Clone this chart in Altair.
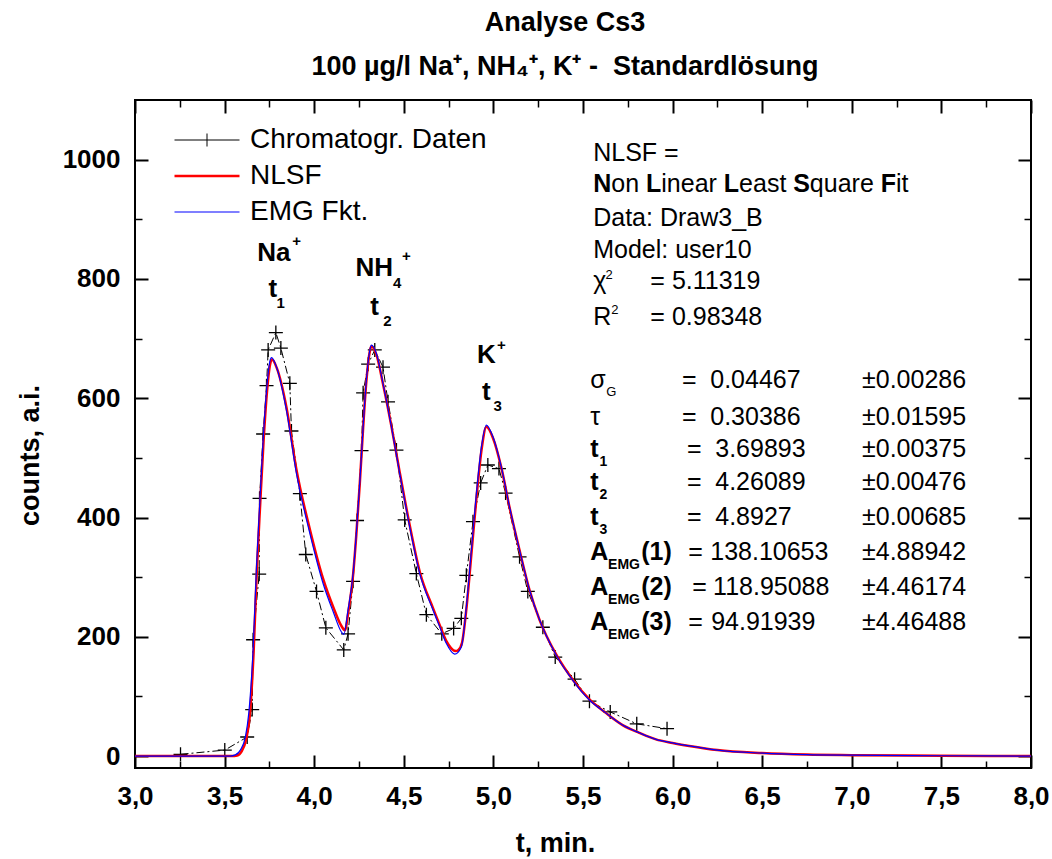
import altair as alt
import pandas as pd

FONT = "Liberation Sans"

# ---------------- data ----------------
# Chromatographic data points (t in min, counts)
data_t = [3.254, 3.501, 3.626, 3.654, 3.659, 3.693, 3.695, 3.715, 3.734, 3.743, 3.786,
          3.814, 3.864, 3.873, 3.920, 3.953, 4.013, 4.065, 4.165, 4.189, 4.217, 4.239,
          4.264, 4.273, 4.301, 4.338, 4.384, 4.412, 4.459, 4.505, 4.570, 4.626, 4.712,
          4.778, 4.821, 4.849, 4.886, 4.929, 4.969, 5.031, 5.068, 5.146, 5.192, 5.276,
          5.345, 5.453, 5.536, 5.652, 5.800, 5.969]
data_c = [3, 10, 32, 78, 195, 305, 432, 540, 621, 681, 710,
          684, 625, 545, 440, 338, 276, 215, 178, 205, 293, 395,
          512, 609, 657, 681, 652, 594, 513, 396, 306, 237, 205,
          214, 231, 303, 393, 458, 488, 482, 441, 334, 276, 216,
          166, 129, 92, 74, 54, 46]

# EMG function (blue)
emg_t = [3.00, 3.53, 3.56, 3.588, 3.616, 3.635, 3.659, 3.678, 3.697, 3.715, 3.734, 3.752,
         3.762, 3.790, 3.845, 3.901, 3.976, 4.050, 4.106, 4.152, 4.165, 4.189, 4.217,
         4.235, 4.254, 4.273, 4.291, 4.310, 4.319, 4.347, 4.384, 4.431, 4.477, 4.533,
         4.589, 4.663, 4.700, 4.737, 4.784, 4.821, 4.849, 4.877, 4.905, 4.933, 4.961,
         4.998, 5.044, 5.090, 5.146, 5.202, 5.258, 5.351, 5.443, 5.536, 5.629, 5.721,
         5.814, 5.907, 6.000, 6.093, 6.25, 6.50, 6.75, 7.00, 7.50, 8.00]
emg_c = [0, 0, 2, 10, 32, 72, 178, 317, 429, 530, 613, 661,
         668, 652, 580, 474, 373, 289, 242, 208, 204, 245, 306,
         373, 457, 552, 630, 680, 689, 675, 625, 552, 474, 384,
         306, 245, 217, 189, 171, 183, 250, 345, 440, 518, 555,
         535, 485, 418, 345, 278, 228, 169, 127, 94, 72, 52,
         39, 28, 22, 17, 10, 5, 2.5, 1.5, 0.5, 0]

# NLSF (red)
nlsf_t = [3.00, 3.54, 3.57, 3.595, 3.62, 3.64, 3.662, 3.680, 3.699, 3.717, 3.736, 3.754,
          3.765, 3.792, 3.845, 3.901, 3.976, 4.050, 4.106, 4.152, 4.171, 4.192, 4.217,
          4.235, 4.254, 4.273, 4.291, 4.310, 4.319, 4.347, 4.384, 4.431, 4.477, 4.533,
          4.589, 4.663, 4.700, 4.737, 4.790, 4.805, 4.825, 4.851, 4.879, 4.907, 4.935,
          4.961, 4.998, 5.044, 5.090, 5.146, 5.202, 5.258, 5.351, 5.443, 5.536, 5.629,
          5.721, 5.814, 5.907, 6.000, 6.093, 6.25, 6.50, 6.75, 7.00, 7.50, 8.00]
nlsf_c = [0, 0, 1, 8, 28, 66, 175, 312, 425, 526, 609, 657,
          665, 650, 585, 480, 380, 297, 250, 218, 211, 245, 304,
          371, 455, 550, 628, 678, 687, 673, 624, 553, 476, 387,
          309, 248, 220, 193, 176, 178, 190, 252, 345, 438, 516,
          552, 533, 484, 417, 345, 278, 228, 170, 128, 95, 72,
          52, 39, 28, 22, 17, 10, 5, 2.5, 1.5, 0.5, 0]

series_names = ["Chromatogr. Daten", "NLSF", "EMG Fkt."]
series_colors = ["black", "red", "blue"]
series_widths = [1.0, 2.5, 1.2]
series_symbols = ["M-1,0H1M0,-0.2V0.2", "M-1,0H1", "M-1,0H1"]

x_major = [3.0, 3.5, 4.0, 4.5, 5.0, 5.5, 6.0, 6.5, 7.0, 7.5, 8.0]
x_minor = [3.25, 3.75, 4.25, 4.75, 5.25, 5.75, 6.25, 6.75, 7.25, 7.75]
y_major = [0, 200, 400, 600, 800, 1000]
y_minor = [100, 300, 500, 700, 900]

# annotation texts: (text, t, counts, fontsize)
ann_regular = [
    ("NLSF =", 5.557, 997.6, 25),
    ("on ", 5.658, 945.1, 25), ("inear ", 5.937, 945.1, 25), ("east ", 6.371, 945.1, 25),
    ("quare ", 6.766, 945.1, 25), ("it", 7.246, 945.1, 25),
    ("Data: Draw3_B", 5.557, 888.9, 25),
    ("Model: user10", 5.557, 835.2, 25),
    ("\u03c7", 5.557, 782.3, 25), ("2", 5.625, 800.7, 13), ("=", 5.875, 782.3, 25), ("5.11319", 5.996, 782.3, 25),
    ("R", 5.557, 723.5, 25), ("2", 5.657, 742.0, 13), ("=", 5.875, 723.5, 25), ("0.98348", 5.996, 723.5, 25),
    ("\u03c3", 5.540, 617.8, 25), ("G", 5.630, 603.0, 13), ("=", 6.053, 617.8, 25), ("0.04467", 6.210, 617.8, 25), ("\u00b10.00286", 7.057, 617.8, 25),
    ("\u03c4", 5.540, 555.7, 25), ("=", 6.053, 555.7, 25), ("0.30386", 6.210, 555.7, 25), ("\u00b10.01595", 7.057, 555.7, 25),
    ("=", 6.081, 501.9, 25), ("3.69893", 6.238, 501.9, 25), ("\u00b10.00375", 7.057, 501.9, 25),
    ("=", 6.081, 446.5, 25), ("4.26089", 6.238, 446.5, 25), ("\u00b10.00476", 7.057, 446.5, 25),
    ("=", 6.081, 387.8, 25), ("4.8927", 6.238, 387.8, 25), ("\u00b10.00685", 7.057, 387.8, 25),
    ("=", 6.087, 329.0, 25), ("138.10653", 6.210, 329.0, 25), ("\u00b14.88942", 7.057, 329.0, 25),
    ("=", 6.109, 270.3, 25), ("118.95088", 6.226, 270.3, 25), ("\u00b14.46174", 7.057, 270.3, 25),
    ("=", 6.087, 211.5, 25), ("94.91939", 6.215, 211.5, 25), ("\u00b14.46488", 7.057, 211.5, 25),
]
ann_bold = [
    ("N", 5.557, 945.1, 25), ("L", 5.852, 945.1, 25), ("L", 6.286, 945.1, 25),
    ("S", 6.673, 945.1, 25), ("F", 7.161, 945.1, 25),
    ("t", 5.540, 501.9, 25), ("1", 5.592, 486.8, 14),
    ("t", 5.540, 446.5, 25), ("2", 5.592, 431.4, 14),
    ("t", 5.540, 387.8, 25), ("3", 5.592, 372.7, 14),
    ("A", 5.540, 329.0, 25), ("EMG", 5.640, 313.9, 14), ("(1)", 5.825, 329.0, 25),
    ("A", 5.540, 270.3, 25), ("EMG", 5.640, 255.2, 14), ("(2)", 5.825, 270.3, 25),
    ("A", 5.540, 211.5, 25), ("EMG", 5.640, 196.4, 14), ("(3)", 5.825, 211.5, 25),
    # peak labels
    ("Na", 3.682, 829.3, 26), ("+", 3.877, 856.0, 15),
    ("t", 3.745, 770.5, 26), ("1", 3.790, 752.0, 15),
    ("NH", 4.230, 804.1, 26), ("4", 4.440, 785.6, 15), ("+", 4.490, 829.3, 15),
    ("t", 4.313, 740.3, 26), ("2", 4.386, 720.7, 15),
    ("K", 4.909, 659.7, 26), ("+", 5.020, 681.6, 15),
    ("t", 4.936, 597.6, 26), ("3", 5.000, 578.0, 15),
]

# ---------------- tables ----------------
df_data = pd.DataFrame({"t": data_t, "c": data_c, "i": range(len(data_t))})
df_emg = pd.DataFrame({"t": emg_t, "c": emg_c})
df_nlsf = pd.DataFrame({"t": nlsf_t, "c": nlsf_c})
df_leg = pd.DataFrame({"series": series_names, "t": [3.0] * 3, "c": [0.0] * 3})
df_reg = pd.DataFrame(ann_regular, columns=["txt", "t", "c", "s"])
df_bold = pd.DataFrame(ann_bold, columns=["txt", "t", "c", "s"])

xs = alt.Scale(domain=[3.0, 8.0], nice=False, zero=False)
ys = alt.Scale(domain=[-20, 1100], nice=False, zero=False)

MAJ, MIN = 13, 7
lab_expr = "replace(format(datum.value, '.1f'), '.', ',')"


def tick_axis(orient, values, size, width):
    return alt.Axis(orient=orient, values=values, offset=-size, tickSize=size,
                    tickWidth=width, tickColor="black", labels=False, domain=False,
                    grid=False, title=None)


x_main = alt.Axis(orient="bottom", values=x_major, offset=-MAJ, tickSize=MAJ, tickWidth=2,
                  tickColor="black", domain=False, grid=False, labelExpr=lab_expr,
                  labelFont=FONT, labelFontSize=26, labelFontWeight="bold", labelColor="black",
                  labelPadding=15, labelFlush=False, labelOverlap=False,
                  title="t, min.", titleFont=FONT, titleFontSize=27, titleFontWeight="bold",
                  titleColor="black", titleX=420, titleY=96, titleBaseline="alphabetic",
                  titleAlign="center")
y_main = alt.Axis(orient="left", values=y_major, offset=-MAJ, tickSize=MAJ, tickWidth=2,
                  tickColor="black", domain=False, grid=False, format="d",
                  labelFont=FONT, labelFontSize=26, labelFontWeight="bold", labelColor="black",
                  labelPadding=15, labelFlush=False, labelOverlap=False,
                  title="counts, a.i.", titleFont=FONT, titleFontSize=27, titleFontWeight="bold",
                  titleColor="black", titleX=-110, titleY=355, titleAngle=270,
                  titleBaseline="alphabetic", titleAlign="center")

dash_line = alt.Chart(df_data).mark_line(color="black", strokeWidth=1, strokeDash=[8, 3, 2, 3]).encode(
    x=alt.X("t:Q", scale=xs, axis=x_main),
    y=alt.Y("c:Q", scale=ys, axis=y_main),
    order="i:Q",
)
crosses = alt.Chart(df_data).mark_point(shape="M-1,0H1M0,-1V1", size=196, filled=False,
                                        strokeWidth=1.3, color="black", opacity=1).encode(
    x=alt.X("t:Q", scale=xs, axis=tick_axis("bottom", x_minor, MIN, 1.5)),
    y=alt.Y("c:Q", scale=ys, axis=tick_axis("left", y_minor, MIN, 1.5)),
)
red = alt.Chart(df_nlsf).mark_line(color="red", strokeWidth=2.5, interpolate="monotone").encode(
    x=alt.X("t:Q", scale=xs, axis=tick_axis("top", x_major, MAJ, 2)),
    y=alt.Y("c:Q", scale=ys, axis=tick_axis("right", y_major, MAJ, 2)),
)
blue = alt.Chart(df_emg).mark_line(color="blue", strokeWidth=1.2, interpolate="monotone").encode(
    x=alt.X("t:Q", scale=xs, axis=tick_axis("top", x_minor, MIN, 1.5)),
    y=alt.Y("c:Q", scale=ys, axis=tick_axis("right", y_minor, MIN, 1.5)),
)

leg = alt.Legend(title=None, orient="none", legendX=38, legendY=27, symbolSize=4225,
                 clipHeight=26, rowPadding=8, labelFont=FONT, labelFontSize=28,
                 labelColor="black", labelOffset=9, labelLimit=500, padding=0,
                 symbolOpacity=1)
legend_layer = alt.Chart(df_leg).transform_filter("false").mark_point(filled=False, opacity=1).encode(
    x=alt.X("t:Q", scale=xs, axis=None),
    y=alt.Y("c:Q", scale=ys, axis=None),
    color=alt.Color("series:N", scale=alt.Scale(domain=series_names, range=series_colors), legend=leg),
    shape=alt.Shape("series:N", scale=alt.Scale(domain=series_names, range=series_symbols), legend=leg),
    strokeWidth=alt.StrokeWidth("series:N", scale=alt.Scale(type="ordinal", domain=series_names,
                                                             range=series_widths), legend=leg),
)


def text_layer(df, weight):
    return alt.Chart(df).mark_text(align="left", baseline="alphabetic", font=FONT,
                                   fontWeight=weight, color="black").encode(
        x=alt.X("t:Q", scale=xs, axis=None),
        y=alt.Y("c:Q", scale=ys, axis=None),
        text="txt:N",
        size=alt.Size("s:Q", scale=None, legend=None),
    )


chart = alt.layer(
    dash_line, crosses, red, blue, legend_layer,
    text_layer(df_reg, "normal"), text_layer(df_bold, "bold"),
).resolve_axis(x="independent", y="independent").properties(
    width=896, height=668,
    padding={"left": 135, "top": 100, "right": 21, "bottom": 91},
    autosize=alt.AutoSizeParams(type="none"),
    background="white",
    title=alt.TitleParams(
        text=["Analyse Cs3", "100 \u00b5g/l Na\u207a, NH\u2084\u207a, K\u207a - \u00a0Standardl\u00f6sung"],
        font=FONT, fontSize=27, fontWeight="bold", color="black", anchor="middle",
        lineHeight=44, dx=-18, offset=18,
    ),
).configure_view(stroke="black", strokeWidth=2)

chart.save("out.html", embed_options={"renderer": "svg", "actions": False})
